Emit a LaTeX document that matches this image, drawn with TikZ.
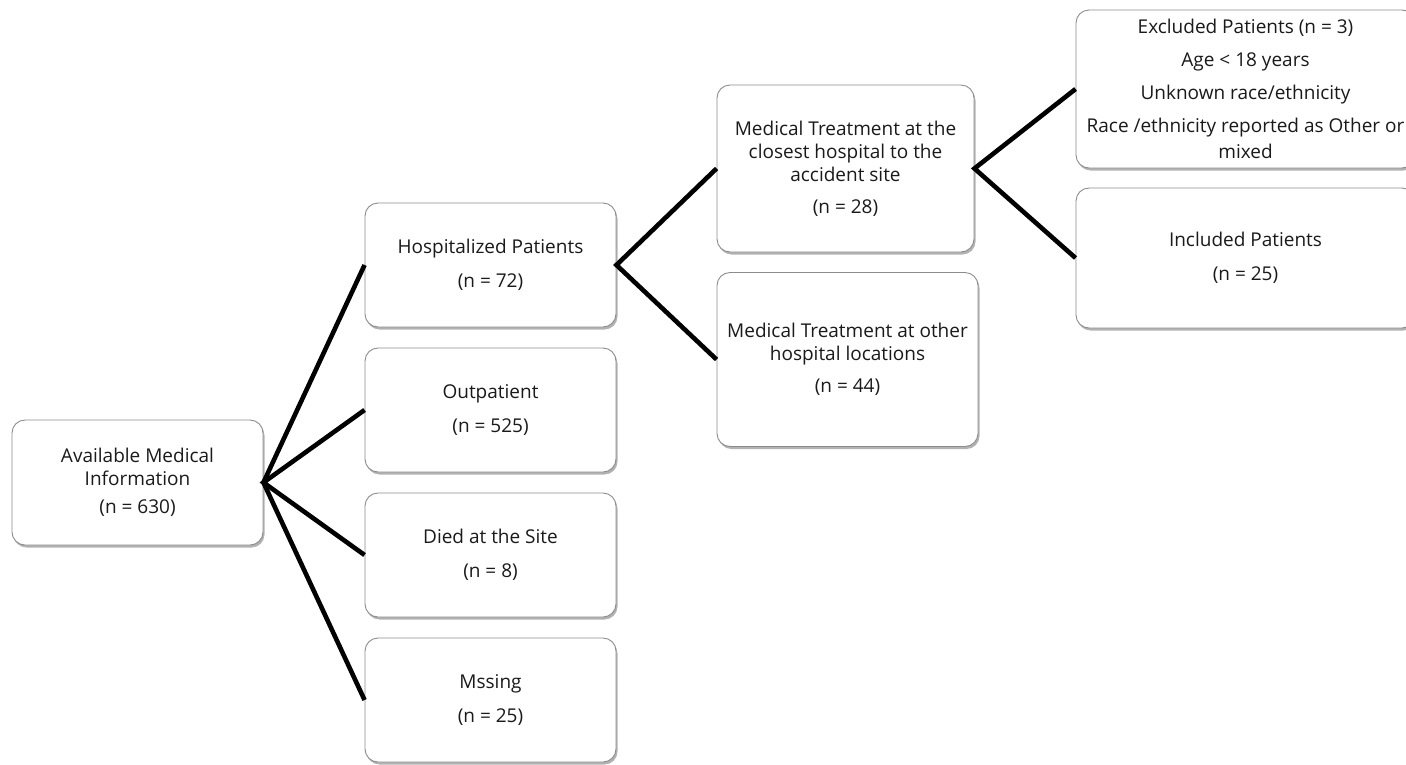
\documentclass[tikz,border=0pt]{standalone}
\usepackage{fontspec}
\setmainfont{Open Sans}
\usetikzlibrary{shadows}
\definecolor{boxgray}{HTML}{8C8C8C}
\definecolor{txt}{HTML}{1A1A1A}
\begin{document}
\begin{tikzpicture}[x=1pt,y=-1pt,
  box/.style={draw=boxgray, line width=0.9pt, rounded corners=13pt, fill=white,
    align=center, inner sep=0pt, text=txt, font=\fontsize{19}{23}\selectfont,
    drop shadow={shadow xshift=1.5pt, shadow yshift=-2.5pt, opacity=0.3, fill=black}},
  link/.style={line width=4.6pt, line join=miter}]
\useasboundingbox[fill=white] (0,0) rectangle (1406,764);

\node[box, minimum width=251pt, minimum height=125pt] (avail) at (137.5,482.5)
  {Available Medical\\Information\\[5pt](n = 630)};

\node[box, minimum width=251pt, minimum height=124pt] (hosp) at (490.5,265)
  {Hospitalized Patients\\[11pt](n = 72)};
\node[box, minimum width=251pt, minimum height=124pt] (outp) at (490.5,410)
  {Outpatient\\[11pt](n = 525)};
\node[box, minimum width=251pt, minimum height=124pt] (died) at (490.5,555)
  {Died at the Site\\[11pt](n = 8)};
\node[box, minimum width=251pt, minimum height=124pt] (miss) at (490.5,700)
  {Mssing\\[11pt](n = 25)};

\node[box, minimum width=257pt, minimum height=167pt] (close) at (845.5,168.5)
  {Medical Treatment at the\\closest hospital to the\\accident site\\[9pt](n = 28)};
\node[box, minimum width=261pt, minimum height=174pt] (other) at (847.5,359.5)
  {Medical Treatment at other\\hospital locations\\[9pt](n = 44)};

\node[box, minimum width=339pt, minimum height=158pt] (excl) at (1245.5,89)
  {Excluded Patients (n = 3)\\[10pt]Age < 18 years\\[10pt]Unknown race/ethnicity\\[10pt]Race /ethnicity reported as Other or\\[3pt]mixed};
\node[box, minimum width=339pt, minimum height=140pt] (incl) at (1245.5,258)
  {Included Patients\\[11pt](n = 25)};

\draw[link] (hosp.west) -- (avail.east) -- (miss.west);
\draw[link] (outp.west) -- (avail.east) -- (died.west);
\draw[link] (close.west) -- (hosp.east) -- (other.west);
\draw[link] (excl.west) -- (close.east) -- (incl.west);
\end{tikzpicture}
\end{document}
